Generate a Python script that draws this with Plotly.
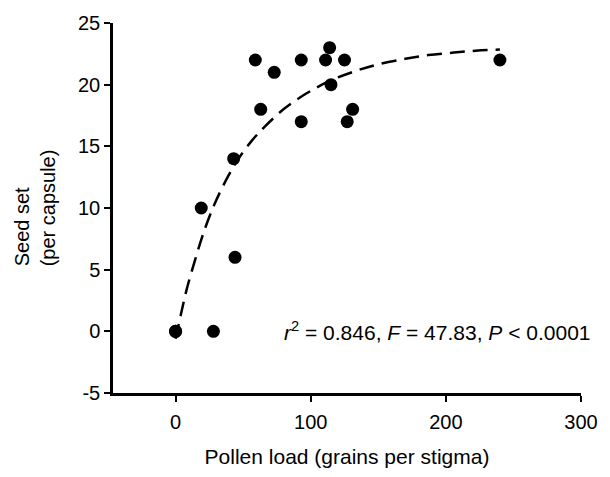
import plotly.graph_objects as go

# Observed data (pollen load vs seed set)
pollen = [0, 0, 19, 28, 43, 44, 59, 63, 73, 93, 93, 111, 114, 115, 125, 127, 131, 240]
seeds = [0, 0, 10, 0, 14, 6, 22, 18, 21, 22, 17, 22, 23, 20, 22, 17, 18, 22]

# Fitted curve
fit_x = [0, 4, 8, 15, 22, 30, 39, 46, 56, 66, 81, 97, 114, 133, 150, 170, 187, 206, 222, 240]
fit_y = [-0.6, 1.4, 3.3, 6.0, 8.4, 10.6, 12.6, 13.9, 15.4, 16.6, 18.1, 19.3, 20.3, 21.1,
         21.65, 22.1, 22.4, 22.6, 22.75, 22.85]

x_ticks = [0, 100, 200, 300]
y_ticks = [-5, 0, 5, 10, 15, 20, 25]

FONT = "Arial, Liberation Sans, sans-serif"

fig = go.Figure()
fig.add_trace(go.Scatter(
    x=fit_x, y=fit_y, mode="lines",
    line=dict(color="black", width=2.5, dash="15px,8px", shape="spline"),
    hoverinfo="skip", showlegend=False))
fig.add_trace(go.Scatter(
    x=pollen, y=seeds, mode="markers",
    marker=dict(color="black", size=13, line=dict(width=0)),
    showlegend=False))

fig.add_annotation(
    x=79, y=0, xref="x", yref="y", xanchor="left", yanchor="middle",
    text="<i>r</i><sup>2</sup> = 0.846, <i>F</i> = 47.83, <i>P</i> &lt; 0.0001",
    showarrow=False, font=dict(family=FONT, size=21, color="black"))

# y-axis title (two left-aligned lines, rotated)
fig.add_annotation(
    x=-0.166, y=0.5, xref="paper", yref="paper", xanchor="center", yanchor="middle",
    text="Seed set<br>(per capsule)", textangle=-90, align="left",
    showarrow=False, font=dict(family=FONT, size=20, color="black"))

axis_common = dict(
    showline=True, linecolor="black", linewidth=2.5, mirror=False,
    ticks="outside", ticklen=6, tickwidth=2, tickcolor="black",
    showgrid=False, zeroline=False,
    tickfont=dict(family=FONT, size=20, color="black"))

fig.update_xaxes(range=[-46.3, 300], tickvals=x_ticks, ticktext=[str(v) for v in x_ticks],
                 ticklabelstandoff=3,
                 title=dict(text="Pollen load (grains per stigma)",
                            font=dict(family=FONT, size=21, color="black"), standoff=18),
                 **axis_common)
fig.update_yaxes(range=[-5, 25], tickvals=y_ticks, ticktext=[str(v) for v in y_ticks],
                 **axis_common)

fig.update_layout(
    width=610, height=477,
    margin=dict(l=113, r=20, t=18, b=81),
    paper_bgcolor="white", plot_bgcolor="white",
    font=dict(family=FONT, color="black"),
    showlegend=False)

fig.write_html("out.html", config={"displayModeBar": False},
               post_script="document.body.style.margin='0';document.body.style.overflow='hidden';")
